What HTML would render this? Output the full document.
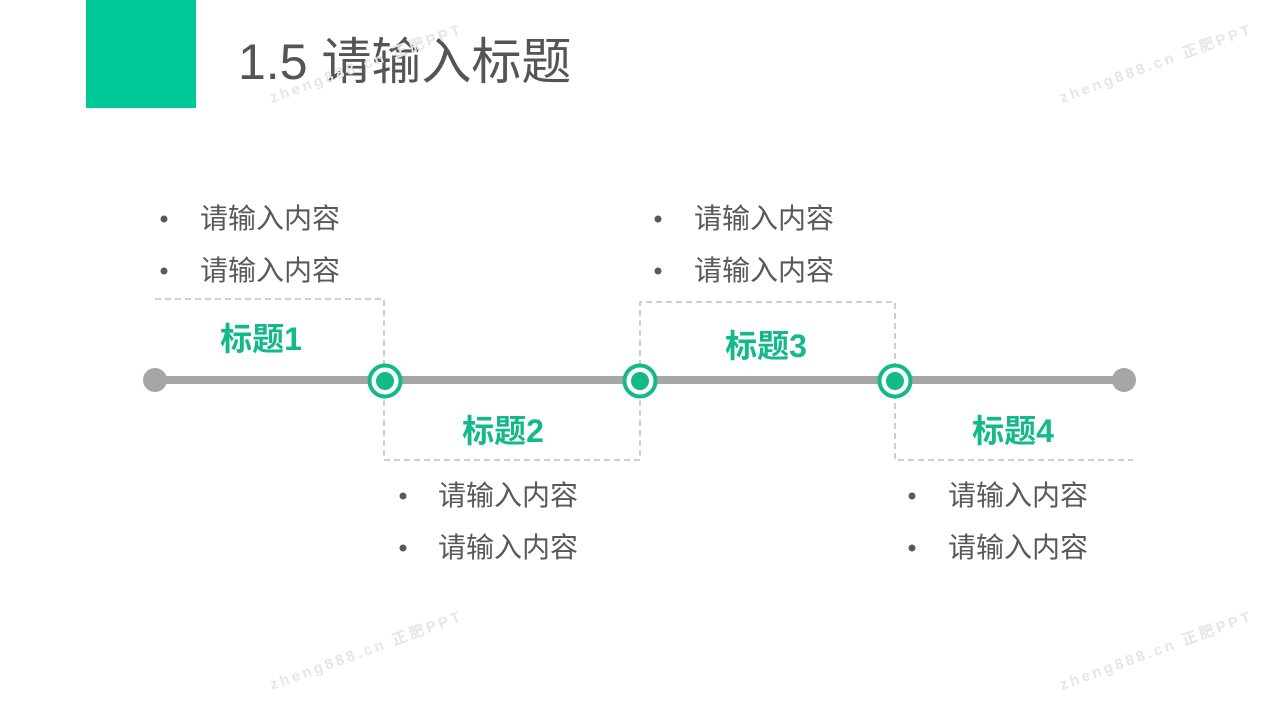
<!DOCTYPE html>
<html><head><meta charset="utf-8">
<style>
html,body{margin:0;padding:0;background:#fff;}
body{width:1280px;height:720px;position:relative;overflow:hidden;font-family:"Liberation Sans","Noto Sans CJK SC",sans-serif;}
svg{position:absolute;left:0;top:0;}
</style></head><body>
<svg width="1280" height="720" viewBox="0 0 1280 720" xmlns="http://www.w3.org/2000/svg">
<rect x="86" y="0" width="110" height="108" fill="#00c896"/>
<text x="238" y="79" font-size="50" fill="#555" font-family="Liberation Sans, Noto Sans CJK SC, sans-serif">1.5 请输入标题</text>

<g fill="none" stroke="#bfbfbf" stroke-width="1.5" stroke-dasharray="6,4">
<path d="M155 299 H384 V460 H640 V302 H895 V460 H1133"/>
</g>

<line x1="155" y1="380" x2="1124" y2="380" stroke="#a6a6a6" stroke-width="8"/>
<circle cx="155" cy="380" r="12" fill="#a6a6a6"/>
<circle cx="1124" cy="380" r="12" fill="#a6a6a6"/>
<g>
<circle cx="385" cy="381" r="15.5" fill="#fff" stroke="#13b98b" stroke-width="4"/>
<circle cx="385" cy="381" r="9" fill="#13b98b"/>
<circle cx="640" cy="381" r="15.5" fill="#fff" stroke="#13b98b" stroke-width="4"/>
<circle cx="640" cy="381" r="9" fill="#13b98b"/>
<circle cx="895" cy="381" r="15.5" fill="#fff" stroke="#13b98b" stroke-width="4"/>
<circle cx="895" cy="381" r="9" fill="#13b98b"/>
</g>

<g font-size="32" font-weight="bold" fill="#13b98b" text-anchor="middle" font-family="Liberation Sans, Noto Sans CJK SC, sans-serif">
<text x="261" y="350">标题1</text>
<text x="503" y="442">标题2</text>
<text x="766" y="357">标题3</text>
<text x="1013" y="442">标题4</text>
</g>

<g font-size="28" fill="#595959" font-family="Liberation Sans, Noto Sans CJK SC, sans-serif">
<text x="200" y="228">请输入内容</text>
<text x="200" y="280">请输入内容</text>
<text x="438" y="505">请输入内容</text>
<text x="438" y="557">请输入内容</text>
<text x="694" y="228">请输入内容</text>
<text x="694" y="280">请输入内容</text>
<text x="948" y="505">请输入内容</text>
<text x="948" y="557">请输入内容</text>
</g>
<g fill="#595959">
<circle cx="164" cy="219" r="3.5"/><circle cx="164" cy="271" r="3.5"/>
<circle cx="403" cy="496" r="3.5"/><circle cx="403" cy="548" r="3.5"/>
<circle cx="658" cy="219" r="3.5"/><circle cx="658" cy="271" r="3.5"/>
<circle cx="912" cy="496" r="3.5"/><circle cx="912" cy="548" r="3.5"/>
</g>

<g font-size="15" font-weight="bold" fill="#e6e6e6" letter-spacing="3" font-family="Liberation Sans, Noto Sans CJK SC, sans-serif">
<text transform="translate(272,103) rotate(-20)">zheng888.cn 正肥PPT</text>
<text transform="translate(1062,103) rotate(-20)">zheng888.cn 正肥PPT</text>
<text transform="translate(272,690) rotate(-20)">zheng888.cn 正肥PPT</text>
<text transform="translate(1062,690) rotate(-20)">zheng888.cn 正肥PPT</text>
</g>
</svg>
</body></html>
